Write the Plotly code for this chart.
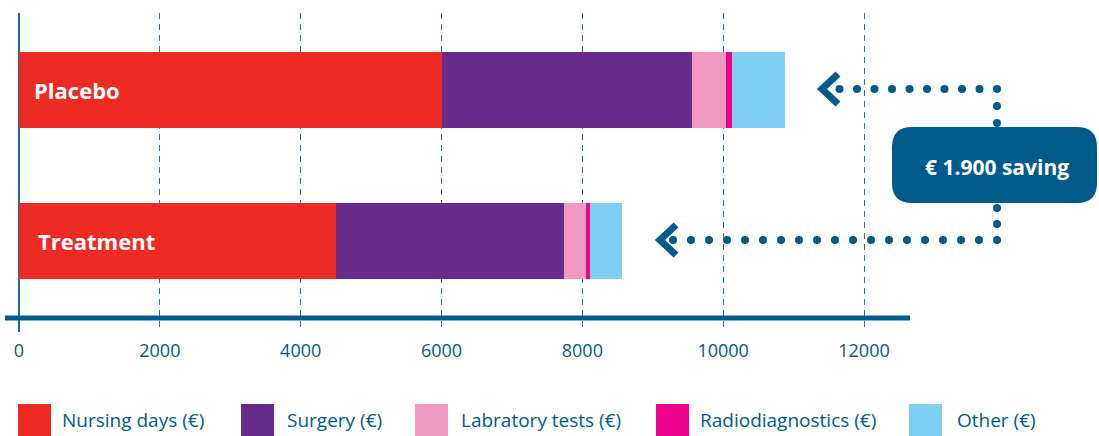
import plotly.graph_objects as go

# ---- data ----
groups = ["Treatment", "Placebo"]
series_names = ["Nursing days (€)", "Surgery (€)", "Labratory tests (€)", "Radiodiagnostics (€)", "Other (€)"]
nursing_days = [4500, 6000]
surgery = [3240, 3560]
lab_tests = [310, 480]
radiodiagnostics = [60, 85]
other = [455, 750]
x_ticks = [0, 2000, 4000, 6000, 8000, 10000, 12000]
saving_label = "€ 1.900 saving"

series_values = [nursing_days, surgery, lab_tests, radiodiagnostics, other]
colors = ["#EE2A24", "#672A8A", "#F09AC2", "#EC008C", "#7FCFF3"]
BLUE = "#005A8C"
W, H = 1099, 436
FONT = "Open Sans"

def px(x):
    return x / W

def py(y):
    return 1 - y / H

fig = go.Figure()
for name, vals, col in zip(series_names, series_values, colors):
    fig.add_trace(go.Bar(
        y=groups, x=vals, name=name, orientation="h",
        marker=dict(color=col, line=dict(width=0)),
        width=0.505, showlegend=False, hoverinfo="x+name",
    ))

shapes = []
annotations = []

# horizontal axis line
shapes.append(dict(type="line", xref="paper", yref="paper",
                   x0=px(5), x1=px(910), y0=py(318), y1=py(318),
                   line=dict(color=BLUE, width=5), layer="above"))

# group labels inside bars
for g, xo in zip(groups, [36, 32]):
    annotations.append(dict(text=f"<b>{g}</b>", x=px(xo), xref="paper", y=g, yref="y",
                            xanchor="left", yanchor="middle", showarrow=False,
                            font=dict(family=FONT, size=22, color="white")))

# rounded box
x0b, x1b, y0b, y1b, r = 892, 1097, 127, 203, 20
rx, ry = r / W, r / H
X0, X1, Y0, Y1 = px(x0b), px(x1b), py(y1b), py(y0b)
path = (f"M {X0+rx},{Y0} L {X1-rx},{Y0} Q {X1},{Y0} {X1},{Y0+ry} "
        f"L {X1},{Y1-ry} Q {X1},{Y1} {X1-rx},{Y1} L {X0+rx},{Y1} "
        f"Q {X0},{Y1} {X0},{Y1-ry} L {X0},{Y0+ry} Q {X0},{Y0} {X0+rx},{Y0} Z")
shapes.append(dict(type="path", xref="paper", yref="paper", path=path,
                   fillcolor=BLUE, line=dict(width=0), layer="above"))
annotations.append(dict(text=f"<b>{saving_label}</b>", x=px(997), y=py(167),
                        xref="paper", yref="paper", showarrow=False,
                        xanchor="center", yanchor="middle",
                        font=dict(family=FONT, size=21, color="white")))

# dotted connectors
dots = []
for k in range(10):
    dots.append((997 - 17.5 * k, 89))
for yy in (106, 123, 208, 224):
    dots.append((997, yy))
for k in range(19):
    dots.append((997 - 18 * k, 240))
rd = 4
for (cx, cy) in dots:
    shapes.append(dict(type="circle", xref="paper", yref="paper",
                       x0=px(cx - rd), x1=px(cx + rd), y0=py(cy + rd), y1=py(cy - rd),
                       fillcolor=BLUE, line=dict(width=0), layer="above"))

# chevrons
for (tx, ty) in [(822, 89), (660, 240)]:
    p = (f"M {px(tx+16)},{py(ty-15)} L {px(tx)},{py(ty)} L {px(tx+16)},{py(ty+15)}")
    shapes.append(dict(type="path", xref="paper", yref="paper", path=p,
                       line=dict(color=BLUE, width=7), layer="above"))

# legend
sq_x = [18, 241, 415, 656, 909]
tx_x = [60, 285, 459, 698, 955]
for name, col, sx, tx in zip(series_names, colors, sq_x, tx_x):
    shapes.append(dict(type="rect", xref="paper", yref="paper",
                       x0=px(sx), x1=px(sx + 33), y0=py(436), y1=py(404),
                       fillcolor=col, line=dict(width=0)))
    annotations.append(dict(text=name, x=px(tx), y=py(420), xref="paper", yref="paper",
                            showarrow=False, xanchor="left", yanchor="middle",
                            font=dict(family=FONT, size=19, color=BLUE)))

scale = (864 - 19) / 12000
fig.update_layout(
    width=W, height=H, autosize=False,
    margin=dict(l=0, r=0, t=0, b=0),
    paper_bgcolor="white", plot_bgcolor="white",
    barmode="stack", bargap=0,
    shapes=shapes, annotations=annotations,
    xaxis=dict(domain=[px(5), px(910)],
               range=[(5 - 19) / scale, (910 - 19) / scale],
               tickvals=x_ticks, ticktext=[str(t) for t in x_ticks],
               showgrid=True, gridcolor="#2F73A3", gridwidth=1.3, griddash="6px,5px",
               zeroline=True, zerolinecolor="#1F6699", zerolinewidth=2,
               showline=False, ticks="", ticklabelstandoff=6,
               tickfont=dict(family=FONT, size=18, color=BLUE), fixedrange=True),
    yaxis=dict(domain=[py(332), py(13)],
               categoryorder="array", categoryarray=groups,
               range=[-(332 - 240.5) / 150.5, 1 + (90 - 13) / 150.5],
               showticklabels=False, showgrid=False, zeroline=False, showline=False,
               ticks="", fixedrange=True),
)

fig.write_html("out.html", config={"displayModeBar": False},
               post_script="document.body.style.margin='0';document.body.style.overflow='hidden';")
